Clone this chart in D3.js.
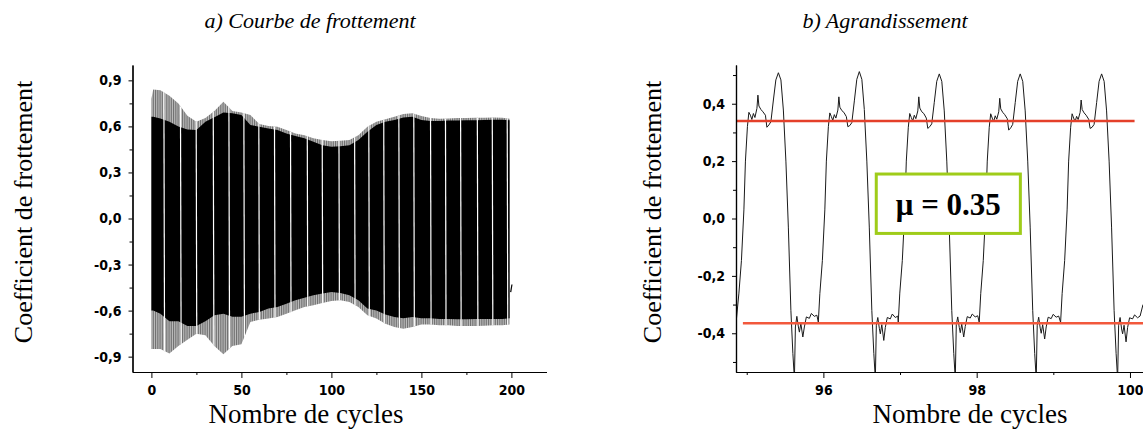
<!DOCTYPE html>
<html>
<head>
<meta charset="utf-8">
<script src="https://cdn.jsdelivr.net/npm/d3@7/dist/d3.min.js"></script>
<style>
  body { margin: 0; background: #fff; }
  .tick text { font-family: "Liberation Sans Narrow", "Arial Narrow", "DejaVu Sans Condensed", sans-serif; font-weight: bold; font-size: 14px; fill: #000; }
  .ttl { font-family: "Liberation Serif", "DejaVu Serif", serif; fill: #000; }
</style>
</head>
<body>
<svg id="chart" width="1143" height="432"></svg>
<script>
  // ---- a) whole test: envelope of the friction signal, sampled every few cycles
  var cycles     = [0, 1, 5, 10, 15, 20, 25, 30, 35, 40, 45, 50, 55, 60, 65, 70, 75, 80, 85, 90, 95, 100,
                    105, 110, 115, 120, 125, 130, 135, 140, 145, 150, 155, 160, 165, 170, 175, 180, 185, 190, 195, 199]
  var outerTop   = [0.78, 0.84, 0.835, 0.8, 0.75, 0.67, 0.63, 0.655, 0.7, 0.76, 0.7, 0.69, 0.674, 0.615, 0.602, 0.598, 0.576, 0.554, 0.543, 0.522, 0.511, 0.504,
                    0.506, 0.511, 0.543, 0.598, 0.63, 0.646, 0.663, 0.68, 0.685, 0.667, 0.655, 0.65, 0.652, 0.655, 0.655, 0.656, 0.656, 0.658, 0.656, 0.65]
  var innerTop   = [0.663, 0.663, 0.652, 0.63, 0.6, 0.58, 0.576, 0.63, 0.66, 0.69, 0.685, 0.674, 0.609, 0.598, 0.587, 0.576, 0.554, 0.537, 0.522, 0.5, 0.478, 0.467,
                    0.47, 0.478, 0.511, 0.565, 0.609, 0.63, 0.641, 0.658, 0.663, 0.641, 0.635, 0.635, 0.638, 0.638, 0.64, 0.64, 0.642, 0.644, 0.644, 0.64]
  var innerBot   = [-0.6, -0.6, -0.62, -0.67, -0.67, -0.7, -0.7, -0.67, -0.63, -0.62, -0.64, -0.64, -0.62, -0.609, -0.587, -0.576, -0.555, -0.533, -0.516, -0.5, -0.489, -0.479,
                    -0.485, -0.5, -0.533, -0.587, -0.6, -0.625, -0.642, -0.65, -0.642, -0.65, -0.65, -0.655, -0.655, -0.656, -0.656, -0.655, -0.655, -0.654, -0.654, -0.65]
  var outerBot   = [-0.85, -0.85, -0.85, -0.88, -0.83, -0.79, -0.75, -0.76, -0.83, -0.885, -0.83, -0.82, -0.674, -0.659, -0.652, -0.642, -0.62, -0.598, -0.577, -0.565, -0.55, -0.537,
                    -0.533, -0.544, -0.577, -0.631, -0.652, -0.685, -0.707, -0.718, -0.707, -0.69, -0.69, -0.696, -0.696, -0.7, -0.7, -0.7, -0.698, -0.696, -0.696, -0.69]
  // cycles where the trace leaves a white gap through the black band
  var gapCycles  = [6.9, 16.1, 24.8, 34.3, 43, 51.3, 59.6, 68.3, 77.2, 86.5, 94.8, 104.1, 112.8, 120.7, 129, 137.4, 145.7, 155, 163.3, 171.7, 181, 189.3, 197.6]
  var bandTail   = [[199.6, -0.48], [200.3, -0.43]]

  var xTicksA      = [0, 50, 100, 150, 200]
  var xMinorA      = [25, 75, 125, 175]
  var yTicksA      = [-0.9, -0.6, -0.3, 0, 0.3, 0.6, 0.9]
  var yMinorA      = [-0.75, -0.45, -0.15, 0.15, 0.45, 0.75]

  // ---- b) zoom on cycles 95-100
  var zoomCurve = [
    [94.86,-0.366],[94.898,-0.26],[94.931,-0.146],[94.963,0.03],[94.983,0.2],[95.009,0.32],[95.028,0.37],[95.048,0.36],[95.067,0.345],[95.087,0.366],[95.107,0.352],[95.133,0.384],[95.146,0.43],[95.159,0.392],[95.185,0.38],[95.211,0.372],[95.244,0.36],[95.263,0.318],[95.289,0.326],[95.315,0.337],[95.348,0.413],[95.380,0.483],[95.413,0.508],[95.446,0.483],[95.478,0.378],[95.511,0.2],[95.543,-0.03],[95.576,-0.32],[95.602,-0.47],[95.622,-0.56],[95.635,-0.378],[95.654,-0.341],[95.674,-0.378],[95.687,-0.396],[95.706,-0.366],[95.732,-0.413],[95.752,-0.378],[95.778,-0.343],[95.817,-0.348],[95.843,-0.331],[95.882,-0.341],[95.915,-0.337],
    [95.934,-0.361],[95.954,-0.262],[95.987,-0.146],[96.019,0.03],[96.039,0.2],[96.065,0.32],[96.084,0.368],[96.104,0.355],[96.123,0.342],[96.143,0.362],[96.163,0.35],[96.189,0.378],[96.202,0.424],[96.215,0.388],[96.241,0.376],[96.267,0.37],[96.300,0.355],[96.319,0.32],[96.345,0.324],[96.371,0.334],[96.404,0.41],[96.436,0.485],[96.469,0.512],[96.502,0.485],[96.534,0.38],[96.567,0.2],[96.599,-0.03],[96.632,-0.32],[96.658,-0.47],[96.678,-0.56],[96.691,-0.372],[96.710,-0.345],[96.730,-0.383],[96.743,-0.402],[96.762,-0.37],[96.788,-0.425],[96.808,-0.38],[96.834,-0.345],[96.873,-0.35],[96.899,-0.333],[96.938,-0.345],[96.971,-0.34],
    [96.977,-0.361],[96.997,-0.26],[97.030,-0.146],[97.062,0.03],[97.082,0.2],[97.108,0.318],[97.127,0.366],[97.147,0.352],[97.166,0.34],[97.186,0.36],[97.206,0.348],[97.232,0.375],[97.245,0.424],[97.258,0.385],[97.284,0.372],[97.310,0.366],[97.343,0.35],[97.362,0.314],[97.388,0.32],[97.414,0.33],[97.447,0.405],[97.479,0.478],[97.512,0.504],[97.545,0.478],[97.577,0.375],[97.610,0.2],[97.642,-0.03],[97.675,-0.32],[97.701,-0.47],[97.721,-0.56],[97.734,-0.37],[97.753,-0.343],[97.773,-0.38],[97.786,-0.398],[97.805,-0.368],[97.831,-0.413],[97.851,-0.376],[97.877,-0.342],[97.916,-0.347],[97.942,-0.333],[97.981,-0.343],[98.014,-0.339],
    [98.033,-0.362],[98.053,-0.262],[98.086,-0.146],[98.118,0.03],[98.138,0.2],[98.164,0.318],[98.183,0.365],[98.203,0.35],[98.222,0.338],[98.242,0.358],[98.262,0.346],[98.288,0.372],[98.301,0.419],[98.314,0.382],[98.340,0.37],[98.366,0.362],[98.399,0.348],[98.418,0.308],[98.444,0.316],[98.470,0.328],[98.503,0.404],[98.535,0.478],[98.568,0.504],[98.601,0.478],[98.633,0.375],[98.666,0.2],[98.698,-0.03],[98.731,-0.32],[98.757,-0.47],[98.777,-0.56],[98.790,-0.372],[98.809,-0.344],[98.829,-0.382],[98.842,-0.4],[98.861,-0.37],[98.887,-0.42],[98.907,-0.378],[98.933,-0.344],[98.972,-0.349],[98.998,-0.334],[99.037,-0.344],[99.070,-0.34],
    [99.095,-0.362],[99.115,-0.262],[99.148,-0.146],[99.180,0.03],[99.200,0.2],[99.226,0.318],[99.245,0.365],[99.265,0.35],[99.284,0.338],[99.304,0.356],[99.324,0.345],[99.350,0.37],[99.363,0.413],[99.376,0.38],[99.402,0.368],[99.428,0.36],[99.461,0.346],[99.480,0.314],[99.506,0.318],[99.532,0.328],[99.565,0.404],[99.597,0.478],[99.630,0.504],[99.663,0.478],[99.695,0.375],[99.728,0.2],[99.760,-0.03],[99.793,-0.32],[99.819,-0.47],[99.839,-0.56],[99.852,-0.372],[99.871,-0.345],[99.891,-0.385],[99.904,-0.402],[99.923,-0.372],[99.949,-0.43],[99.969,-0.38],[99.995,-0.346],[100.034,-0.35],[100.060,-0.336],[100.099,-0.346],[100.132,-0.34],[100.17,-0.30]
  ]
  var muLevels   = [0.34, -0.365]
  var muFrom     = [94.86, 94.95]
  var muTo       = [100.06, 100.17]
  var muColors   = ['#e4402a', '#f2583c']
  var muText     = 'μ = 0.35'

  var xTicksB    = [96, 98, 100]
  var xMinorB    = [95, 97, 99]
  var yTicksB    = [-0.4, -0.2, 0, 0.2, 0.4]
  var yMinorB    = [-0.5, -0.3, -0.1, 0.1, 0.3, 0.5]

  function frNum(d) {
    return (d < 0 ? '-' : '') + Math.abs(d).toFixed(1).replace('.', ',')
  }

  var svg = d3.select('#chart')
  var defs = svg.append('defs')

  // ---------------- chart a ----------------
  var xA = d3.scaleLinear().domain([-10.5, 219.5]).range([132.5, 546.5])
  var yA = d3.scaleLinear().domain([-1, 1]).range([372, 65])

  var pat = defs.append('pattern').attr('id', 'stripes').attr('patternUnits', 'userSpaceOnUse')
      .attr('width', 1.8).attr('height', 10).attr('patternTransform', 'translate(' + xA(0) + ',0)')
  pat.append('rect').attr('width', 1.8).attr('height', 10).attr('fill', '#fff')
  pat.append('rect').attr('width', 1.3).attr('height', 10).attr('fill', '#6e6e6e')

  var band = cycles.map(function (c, i) {
    return {c: c, ot: outerTop[i], it: innerTop[i], ib: innerBot[i], ob: outerBot[i]}
  })
  var outerArea = d3.area().x(function (d) {return xA(d.c)}).y0(function (d) {return yA(d.ob)}).y1(function (d) {return yA(d.ot)})
  var innerArea = d3.area().x(function (d) {return xA(d.c)}).y0(function (d) {return yA(d.ib)}).y1(function (d) {return yA(d.it)})

  defs.append('clipPath').attr('id', 'outerClip').append('path').attr('d', outerArea(band))

  var gA = svg.append('g')
  gA.append('path').attr('d', outerArea(band)).attr('fill', 'url(#stripes)')
  gA.append('path').attr('d', innerArea(band)).attr('fill', '#000')
  gA.append('g').attr('clip-path', 'url(#outerClip)').selectAll('line').data(gapCycles).enter().append('line')
      .attr('x1', function (d) {return xA(d)}).attr('x2', function (d) {return xA(d) + 0.8})
      .attr('y1', yA(1)).attr('y2', yA(-1))
      .attr('stroke', '#fff').attr('stroke-width', 1.2)
  gA.append('path').datum(bandTail)
      .attr('d', d3.line().x(function (d) {return xA(d[0])}).y(function (d) {return yA(d[1])}))
      .attr('fill', 'none').attr('stroke', '#000').attr('stroke-width', 1.2)

  function drawAxes(x, y, xt, xm, yt, ym, xlabFmt) {
    var bx = svg.append('g').attr('transform', 'translate(0,' + y.range()[0] + ')')
    bx.call(d3.axisBottom(x).tickValues(xm).tickSize(3).tickSizeOuter(0).tickFormat(''))
    bx.append('g').call(d3.axisBottom(x).tickValues(xt).tickSize(6).tickPadding(7).tickSizeOuter(0).tickFormat(xlabFmt))
    var ly = svg.append('g').attr('transform', 'translate(' + x.range()[0] + ',0)')
    ly.call(d3.axisLeft(y).tickValues(ym).tickSize(3).tickSizeOuter(0).tickFormat(''))
    ly.append('g').call(d3.axisLeft(y).tickValues(yt).tickSize(4).tickPadding(7).tickSizeOuter(0).tickFormat(frNum))
    svg.selectAll('.domain').attr('stroke', '#000').attr('stroke-width', 1.2)
    svg.selectAll('.tick line').attr('stroke', '#000')
  }
  drawAxes(xA, yA, xTicksA, xMinorA, yTicksA, yMinorA, function (d) {return d})

  // ---------------- chart b ----------------
  var xB = d3.scaleLinear().domain([94.86, 100.17]).range([736, 1143])
  var yB = d3.scaleLinear().domain([-0.535, 0.535]).range([372, 65])

  defs.append('clipPath').attr('id', 'plotB').append('rect')
      .attr('x', 736).attr('y', 65).attr('width', 1143 - 736).attr('height', 372 - 65)

  var gB = svg.append('g').attr('clip-path', 'url(#plotB)')
  gB.append('path').datum(zoomCurve)
      .attr('d', d3.line().x(function (d) {return xB(d[0])}).y(function (d) {return yB(d[1])}))
      .attr('fill', 'none').attr('stroke', '#1a1a1a').attr('stroke-width', 1)
  gB.selectAll('line.mu').data(muLevels).enter().append('line').attr('class', 'mu')
      .attr('x1', function (d, i) {return xB(muFrom[i])}).attr('x2', function (d, i) {return xB(muTo[i])})
      .attr('y1', function (d) {return yB(d)}).attr('y2', function (d) {return yB(d)})
      .attr('stroke', function (d, i) {return muColors[i]}).attr('stroke-width', 2.4)

  drawAxes(xB, yB, xTicksB, xMinorB, yTicksB, yMinorB, function (d) {return d})

  // mu box
  svg.append('rect').attr('x', xB(96.69)).attr('y', yB(0.155)).attr('width', xB(98.57) - xB(96.69)).attr('height', yB(-0.052) - yB(0.155))
      .attr('fill', '#fff').attr('stroke', '#9fcc1a').attr('stroke-width', 3)
  svg.append('text').attr('class', 'ttl').attr('x', (xB(96.69) + xB(98.57)) / 2).attr('y', 215)
      .attr('text-anchor', 'middle').attr('font-size', 31).attr('font-weight', 'bold').text(muText)

  // ---------------- titles ----------------
  svg.append('text').attr('class', 'ttl').attr('x', 310).attr('y', 28).attr('text-anchor', 'middle')
      .attr('font-size', 22).attr('font-style', 'italic').text('a) Courbe de frottement')
  svg.append('text').attr('class', 'ttl').attr('x', 885).attr('y', 28).attr('text-anchor', 'middle')
      .attr('font-size', 22).attr('font-style', 'italic').text('b) Agrandissement')

  svg.append('text').attr('class', 'ttl').attr('x', 306).attr('y', 423).attr('text-anchor', 'middle')
      .attr('font-size', 27).text('Nombre de cycles')
  svg.append('text').attr('class', 'ttl').attr('x', 970).attr('y', 423).attr('text-anchor', 'middle')
      .attr('font-size', 27).text('Nombre de cycles')

  svg.append('text').attr('class', 'ttl').attr('transform', 'translate(32,212) rotate(-90)').attr('text-anchor', 'middle')
      .attr('font-size', 26).text('Coefficient de frottement')
  svg.append('text').attr('class', 'ttl').attr('transform', 'translate(661,212) rotate(-90)').attr('text-anchor', 'middle')
      .attr('font-size', 26).text('Coefficient de frottement')
</script>
</body>
</html>
